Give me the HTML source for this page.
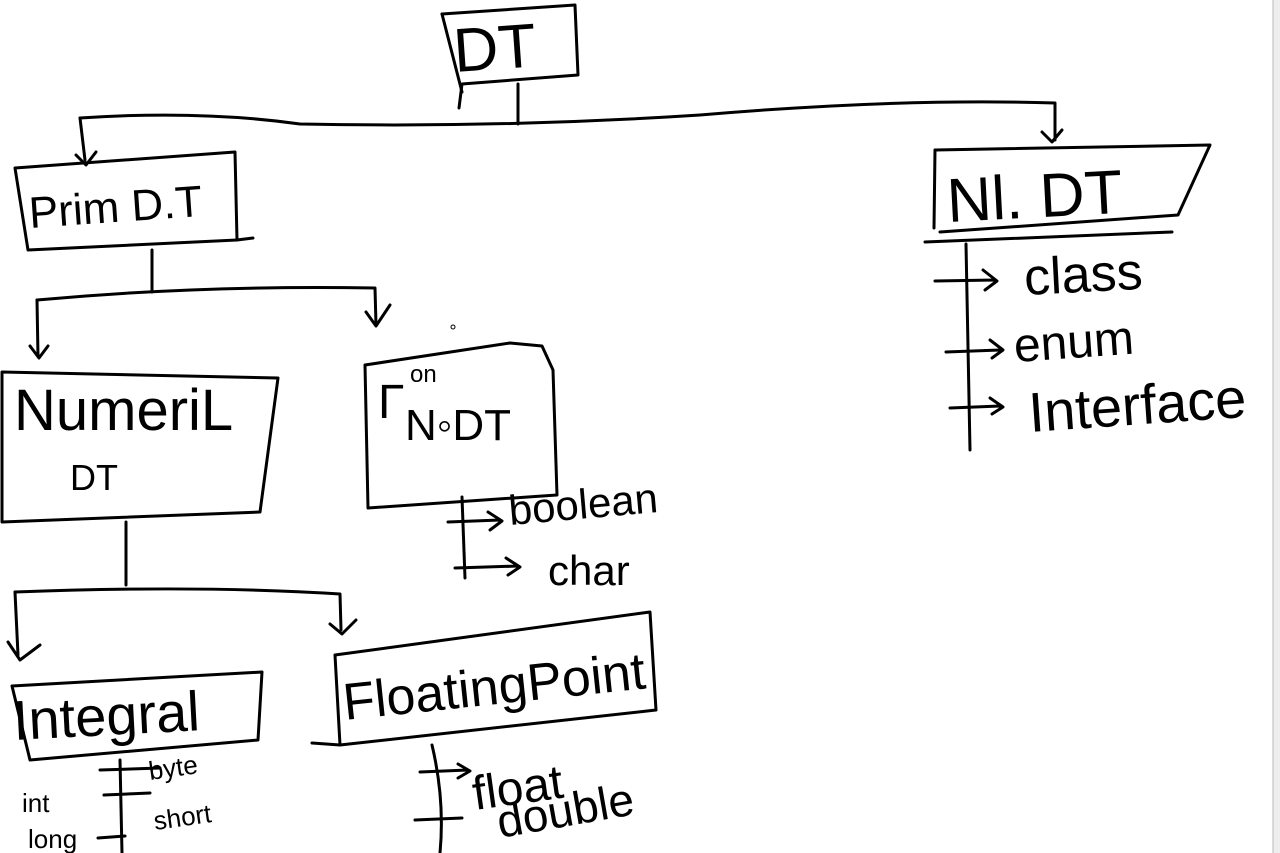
<!DOCTYPE html>
<html><head><style>
html,body{margin:0;padding:0;background:#fff;}
svg{display:block}
text{font-family:"Liberation Sans",sans-serif;fill:#000;}
</style></head><body>
<svg width="1280" height="853" viewBox="0 0 1280 853" xmlns="http://www.w3.org/2000/svg">
<rect x="1273" y="0" width="7" height="853" fill="#eeeeee"/>
<line x1="1273" y1="0" x2="1273" y2="853" stroke="#bbb" stroke-width="1"/>
<g fill="none" stroke="#000" stroke-width="3" stroke-linecap="round" stroke-linejoin="round">
<!-- DT box -->
<path d="M442 14 L575 5 L578 75 L462 84 L459 108"/>
<path d="M442 14 L462 92"/>
<path d="M518 84 L518 124"/>
<!-- top horizontal -->
<path d="M80 118 Q200 110 300 124 Q500 128 700 115 Q900 98 1055 103 L1055 140"/>
<path d="M1042 132 L1052 142 L1062 130"/>
<path d="M80 118 L85 160"/>
<path d="M76 155 L86 165 L96 152"/>
<!-- Prim DT box -->
<path d="M15 168 L235 152 L237 240 L28 250 L15 168"/>
<path d="M237 240 L253 238"/>
<!-- Prim connector -->
<path d="M152 250 L152 292"/>
<path d="M37 300 Q200 285 375 288 L376 325"/>
<path d="M37 300 L38 356"/>
<path d="M30 346 L39 358 L48 346"/>
<path d="M366 312 L376 326 L390 305"/>
<!-- Numeric box -->
<path d="M2 372 L278 378 L260 512 L2 522 Z"/>
<path d="M126 522 L126 585"/>
<path d="M15 592 Q200 585 340 594 L341 630"/>
<path d="M15 592 L18 655"/>
<path d="M8 642 L20 660 L40 645"/>
<path d="M330 624 L342 634 L356 620"/>
<!-- Non NDT box -->
<path d="M365 365 L510 343 L542 346 L553 370 L557 495 L368 508 L365 365"/>
<path d="M462 497 L465 578"/>
<path d="M448 522 L500 520 M488 512 L502 521 L490 530"/>
<path d="M455 568 L518 566 M506 558 L520 567 L508 575"/>
<!-- Integral box -->
<path d="M12 686 L262 672 L258 740 L30 760 L12 686"/>
<path d="M120 760 L122 853"/>
<path d="M100 770 L160 768 M104 795 L150 793 M98 838 L125 836"/>
<!-- FloatingPoint box -->
<path d="M335 655 L650 612 L656 710 L340 745 L335 655"/>
<path d="M312 743 L340 745"/>
<path d="M432 745 Q445 800 440 853"/>
<path d="M420 772 L468 770 M458 764 L470 771 L458 778"/>
<path d="M415 820 L462 818"/>
<!-- NP DT box -->
<path d="M935 150 L1210 145 L1178 215 L940 232"/>
<path d="M935 150 L934 228"/>
<path d="M925 242 L1172 232"/>
<path d="M966 244 L970 450"/>
<path d="M935 281 L995 280 M983 270 L997 281 L985 290"/>
<path d="M946 352 L1000 350 M990 340 L1003 350 L992 358"/>
<path d="M950 408 L1000 406 M990 398 L1003 407 L992 414"/>
<circle cx="453" cy="327" r="2" stroke-width="1"/>
</g>
<g font-style="normal">
<text x="455" y="72" font-size="62" transform="rotate(-4 455 72)">DT</text>
<text x="30" y="228" font-size="44" transform="rotate(-4 30 228)">Prim D.T</text>
<text x="14" y="430" font-size="58">NumeriL</text>
<text x="70" y="490" font-size="36">DT</text>
<text x="378" y="418" font-size="48">Γ</text>
<text x="410" y="382" font-size="24">on</text>
<text x="405" y="440" font-size="44">N◦DT</text>
<text x="510" y="525" font-size="42" transform="rotate(-5 510 525)">boolean</text>
<text x="548" y="585" font-size="42">char</text>
<text x="14" y="740" font-size="56" transform="rotate(-3 14 740)">Integral</text>
<text x="345" y="720" font-size="52" transform="rotate(-6 345 720)">FloatingPoint</text>
<text x="475" y="810" font-size="48" transform="rotate(-8 475 810)">float</text>
<text x="500" y="838" font-size="46" transform="rotate(-10 500 838)">double</text>
<text x="150" y="780" font-size="26" transform="rotate(-8 150 780)">byte</text>
<text x="155" y="830" font-size="26" transform="rotate(-8 155 830)">short</text>
<text x="22" y="812" font-size="26">int</text>
<text x="28" y="848" font-size="26">long</text>
<text x="948" y="222" font-size="62" transform="rotate(-3 948 222)">Nl. DT</text>
<text x="1025" y="295" font-size="52" transform="rotate(-3 1025 295)">class</text>
<text x="1015" y="362" font-size="48" transform="rotate(-4 1015 362)">enum</text>
<text x="1030" y="432" font-size="56" transform="rotate(-4 1030 432)">Interface</text>
</g>
</svg>
</body></html>
